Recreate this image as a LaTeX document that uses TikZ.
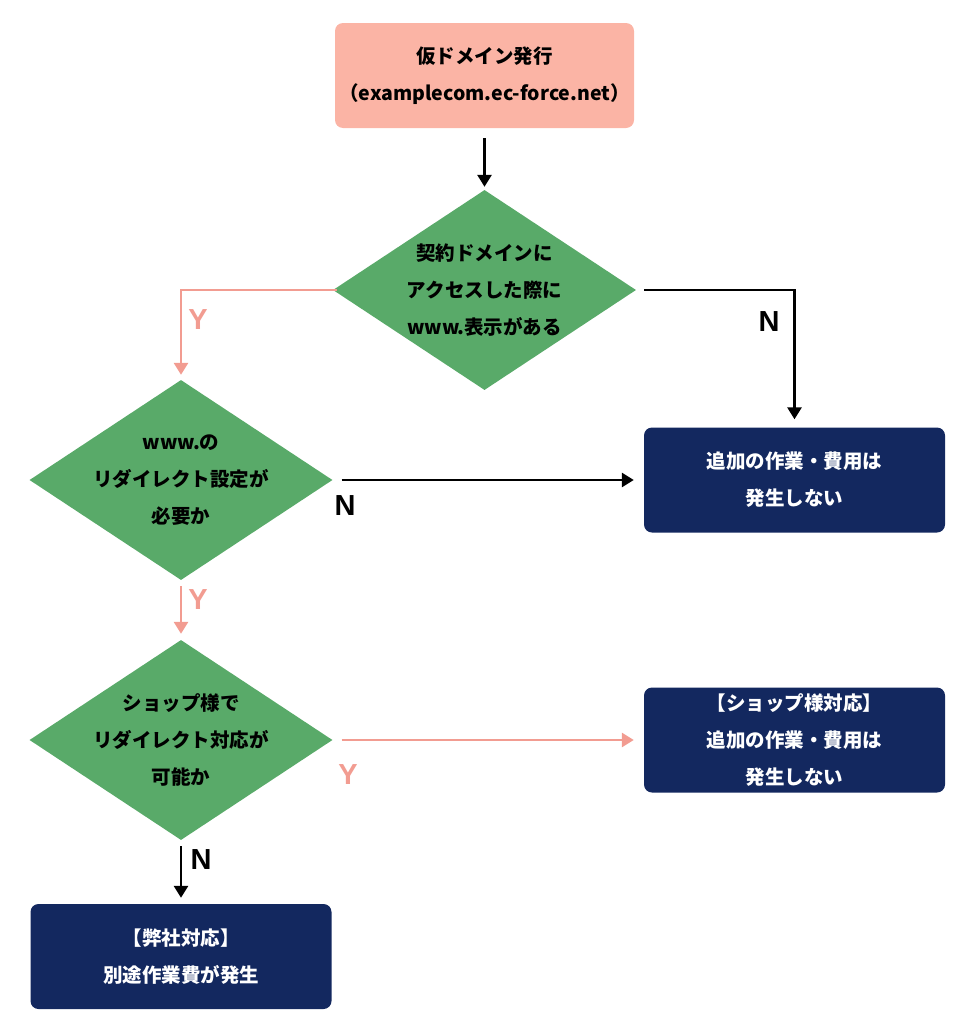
\documentclass[tikz,border=0pt]{standalone}
\usepackage{fontspec}
\setmainfont{Noto Sans CJK JP}
\newfontfamily\ynfont{Liberation Sans}
\usetikzlibrary{shapes.geometric,arrows.meta}

\definecolor{startpink}{HTML}{FBB4A5}
\definecolor{decgreen}{HTML}{59AA69}
\definecolor{endnavy}{HTML}{13285F}
\definecolor{yessalmon}{HTML}{F29C91}

\tikzset{
  startbox/.style={rectangle, rounded corners=8pt, fill=startpink, minimum width=299pt, minimum height=105pt},
  endbox/.style={rectangle, rounded corners=8pt, fill=endnavy, minimum width=301pt, minimum height=105pt},
  decision/.style={diamond, fill=decgreen, inner sep=0pt, minimum width=303pt, minimum height=200pt},
  txt/.style={align=center, font=\fontsize{19.5}{37}\selectfont\bfseries},
  flow/.style={line width=2.8pt, -{Triangle[width=14pt,length=12pt]}},
  yes/.style={flow, color=yessalmon},
  no/.style={flow, color=black},
  yeslbl/.style={color=yessalmon, font=\ynfont\fontsize{29}{29}\selectfont\bfseries, inner sep=0pt},
  nolbl/.style={color=black, font=\ynfont\fontsize{29}{29}\selectfont\bfseries, inner sep=0pt}
}

\begin{document}
\begin{tikzpicture}[x=1pt, y=-1pt]
    \useasboundingbox (0,0) rectangle (964,1020);

    % boxes
    \node[startbox] (start) at (484.5,75.5) {};
    \node[txt] (starttxt) at (start) {仮ドメイン発行\\（examplecom.ec-force.net）};

    \node[decision] (www) at (484.5,290) {};
    \node[txt] (wwwtxt) at (www) {契約ドメインに\\アクセスした際に\\www.表示がある};

    \node[decision] (redir) at (181,480) {};
    \node[txt] (redirtxt) at (redir) {www.の\\リダイレクト設定が\\必要か};

    \node[decision] (shop) at (181,740) {};
    \node[txt] (shoptxt) at (shop) {ショップ様で\\リダイレクト対応が\\可能か};

    \node[endbox] (none) at (794.5,480) {};
    \node[txt, text=white] (nonetxt) at (none) {追加の作業・費用は\\発生しない};

    \node[endbox] (shopdo) at (794.5,740) {};
    \node[txt, text=white] (shopdotxt) at (shopdo) {【ショップ様対応】\\追加の作業・費用は\\発生しない};

    \node[endbox] (ours) at (181,956.5) {};
    \node[txt, text=white] (ourstxt) at (ours) {【弊社対応】\\別途作業費が発生};

    % arrows
    \draw[no, shorten <=10pt, shorten >=3pt] (start) -- (www);
    \draw[yes, shorten <=-4pt, shorten >=5pt] (www.west) -| (redir.north);
    \draw[no, shorten <=8pt, shorten >=8pt] (www.east) -| (none.north);
    \draw[no, shorten <=9pt, shorten >=10pt] (redir.east) -- (none.west);
    \draw[yes, shorten <=6pt, shorten >=6pt] (redir.south) -- (shop.north);
    \draw[yes, shorten <=9pt, shorten >=10pt] (shop.east) -- (shopdo.west);
    \draw[no, shorten <=6pt, shorten >=6pt] (shop.south) -- (ours.north);

    % labels
    \node[yeslbl] (y1) at (198,320) {Y};
    \node[nolbl] (n1) at (769,322) {N};
    \node[nolbl] (n2) at (345,506) {N};
    \node[yeslbl] (y2) at (198,600) {Y};
    \node[yeslbl] (y3) at (348,775) {Y};
    \node[nolbl] (n3) at (201,860) {N};
\end{tikzpicture}
\end{document}
